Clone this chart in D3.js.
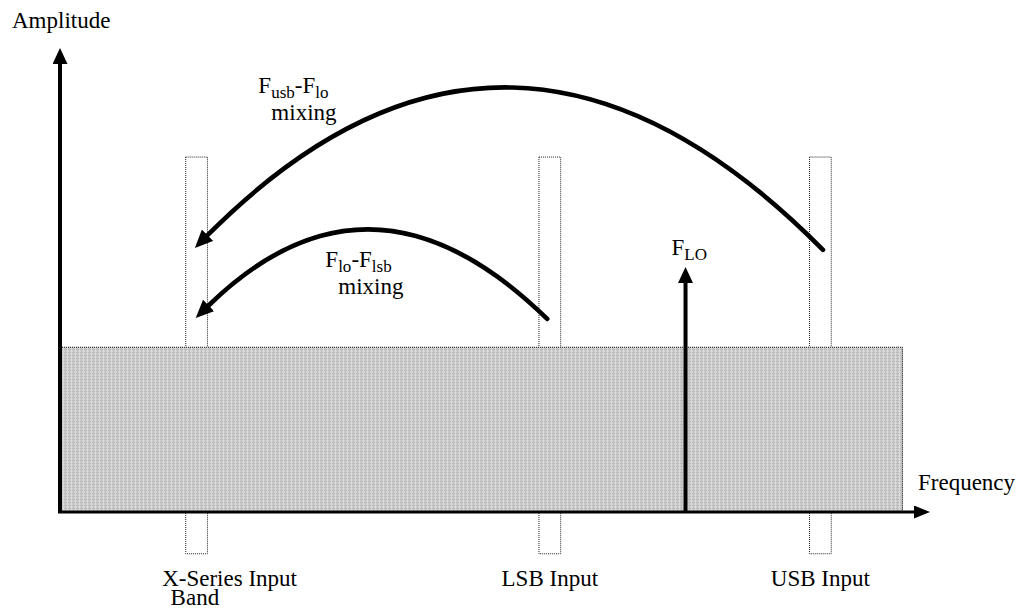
<!DOCTYPE html>
<html>
<head>
<meta charset="utf-8">
<script src="https://cdn.jsdelivr.net/npm/d3@7"></script>
<style>
  html, body { margin: 0; padding: 0; background: #fff; }
  svg { display: block; }
  text { font-family: "Liberation Serif", "Times New Roman", serif; fill: #000; }
</style>
</head>
<body>
<script>
// ---- data (frequency / amplitude in arbitrary chart units 0..100) ----
const bandNames = ["X-Series Input Band", "LSB Input", "USB Input"];
const bandLabelLines = [["X-Series Input", "Band"], ["LSB Input"], ["USB Input"]];
const bandFreq = [15.7, 56.3, 87.4];      // band centers
const bandWidthF = 2.5;                    // band width (frequency units)
const bandTopAmp = 76.5;                   // top of dotted input windows
const bandBottomAmp = -9.0;                // bottom of dotted input windows
const noiseFloorAmp = 35.6;                // shaded broadband level
const noiseEndFreq = 96.9;                 // shaded region end
const loFreq = 71.9;                       // local oscillator frequency
const loAmp = 52.8;                        // local oscillator amplitude
// mixing arcs: start freq/amp -> end freq/amp, peak amplitude
const mixFrom = [87.7, 56.0];
const mixFromAmp = [56.5, 41.6];
const mixTo = [15.5, 15.6];
const mixToAmp = [56.9, 41.8];
const mixPeak = [90.8, 60.2];
const mixLabels = [["usb", "lo"], ["lo", "lsb"]];
const mixLabelFreq = [22.8, 30.5];
const mixLabelAmp = [90.3, 52.8];

const W = 1025, H = 609;
const svg = d3.select("body").append("svg").attr("width", W).attr("height", H);

const x = d3.scaleLinear().domain([0, 100]).range([60, 930]);
const y = d3.scaleLinear().domain([0, 100]).range([512, 48]);

const FS = 23, SFS = 17;

// defs
const defs = svg.append("defs");
const pat = defs.append("pattern").attr("id", "shade").attr("patternUnits", "userSpaceOnUse")
  .attr("width", 4).attr("height", 3);
pat.append("rect").attr("width", 4).attr("height", 3).attr("fill", "#d2d2d2");
pat.append("rect").attr("y", 1).attr("width", 4).attr("height", 1).attr("fill", "#b6b6b6");
pat.append("rect").attr("x", 1).attr("width", 1).attr("height", 3).attr("fill", "#c0c0c0");
pat.append("rect").attr("x", 3).attr("width", 1).attr("height", 3).attr("fill", "#dadada");

function marker(id, len, wid) {
  defs.append("marker").attr("id", id).attr("markerUnits", "userSpaceOnUse")
    .attr("viewBox", `0 ${-wid/2} ${len} ${wid}`).attr("refX", 0).attr("refY", 0)
    .attr("markerWidth", len).attr("markerHeight", wid).attr("orient", "auto")
    .append("path").attr("d", `M0,${-wid/2}L${len},0L0,${wid/2}Z`).attr("fill", "#000");
}
marker("ah", 16, 15);
marker("ahx", 16, 13);
marker("arc", 18, 16);

// dotted input windows (behind shaded band)
svg.selectAll("rect.band").data(bandFreq).join("rect").attr("class", "band")
  .attr("x", d => x(d - bandWidthF / 2))
  .attr("y", y(bandTopAmp))
  .attr("width", x(bandWidthF) - x(0))
  .attr("height", y(bandBottomAmp) - y(bandTopAmp))
  .attr("fill", "#fff").attr("stroke", "#222").attr("stroke-width", 1)
  .attr("stroke-dasharray", "1,1");

// shaded broadband region
svg.append("rect")
  .attr("x", x(0)).attr("y", y(noiseFloorAmp))
  .attr("width", x(noiseEndFreq) - x(0)).attr("height", y(0) - y(noiseFloorAmp))
  .attr("fill", "url(#shade)");
svg.append("path")
  .attr("d", `M${x(0)},${y(noiseFloorAmp) + 0.5}H${x(noiseEndFreq) - 0.5}V${y(0)}`)
  .attr("fill", "none").attr("stroke", "#222").attr("stroke-width", 1).attr("stroke-dasharray", "1,1");

// axes
svg.append("line").attr("x1", x(0) - 2).attr("y1", y(0)).attr("x2", x(100) - 16).attr("y2", y(0))
  .attr("stroke", "#000").attr("stroke-width", 3).attr("marker-end", "url(#ahx)");
svg.append("line").attr("x1", x(0)).attr("y1", y(0) + 1).attr("x2", x(0)).attr("y2", y(100) + 16)
  .attr("stroke", "#000").attr("stroke-width", 4).attr("marker-end", "url(#ah)");

// LO arrow
svg.append("line").attr("x1", x(loFreq)).attr("y1", y(0) + 1).attr("x2", x(loFreq)).attr("y2", y(loAmp) + 16)
  .attr("stroke", "#000").attr("stroke-width", 4).attr("marker-end", "url(#ah)");

// mixing arcs
mixFrom.forEach((f, i) => {
  const p0 = [x(f), y(mixFromAmp[i])];
  const p2 = [x(mixTo[i]), y(mixToAmp[i])];
  const cAmp = 2 * mixPeak[i] - (mixFromAmp[i] + mixToAmp[i]) / 2;
  const c = [(p0[0] + p2[0]) / 2, y(cAmp)];
  const dx = p2[0] - c[0], dy = p2[1] - c[1];
  const L = Math.hypot(dx, dy);
  const e = [p2[0] - dx / L * 18, p2[1] - dy / L * 18];
  const path = d3.path();
  path.moveTo(p0[0], p0[1]);
  path.quadraticCurveTo(c[0], c[1], e[0], e[1]);
  svg.append("path").attr("d", path.toString()).attr("fill", "none")
    .attr("stroke", "#000").attr("stroke-width", 4.6).attr("stroke-linecap", "round")
    .attr("marker-end", "url(#arc)");
});

// mixing labels
mixLabels.forEach((lb, i) => {
  const tx = x(mixLabelFreq[i]), ty = y(mixLabelAmp[i]);
  const t = svg.append("text").attr("x", tx).attr("y", ty).attr("font-size", FS);
  t.append("tspan").text("F");
  t.append("tspan").attr("font-size", SFS).attr("dy", 5).text(lb[0]);
  t.append("tspan").attr("dy", -5).text("-F");
  t.append("tspan").attr("font-size", SFS).attr("dy", 5).text(lb[1]);
  svg.append("text").attr("x", tx + 13).attr("y", ty + 27).attr("font-size", FS).text("mixing");
});

// LO label
{
  const t = svg.append("text").attr("x", x(loFreq) - 14).attr("y", y(loAmp) - 12).attr("font-size", FS);
  t.append("tspan").text("F");
  t.append("tspan").attr("font-size", SFS).attr("dy", 5).text("LO");
}

// axis titles
svg.append("text").attr("x", 12).attr("y", 28).attr("font-size", FS).text("Amplitude");
svg.append("text").attr("x", 918).attr("y", 490).attr("font-size", FS).text("Frequency");

// band labels
bandLabelLines.forEach((lines, i) => {
  lines.forEach((ln, j) => {
    const cx = x(bandFreq[i]);
    svg.append("text")
      .attr("x", j === 0 ? cx + (i === 0 ? 33 : 0) : cx - 26)
      .attr("y", 586 + j * 19)
      .attr("font-size", FS)
      .attr("text-anchor", j === 0 ? "middle" : "start")
      .text(ln);
  });
});
</script>
</body>
</html>
